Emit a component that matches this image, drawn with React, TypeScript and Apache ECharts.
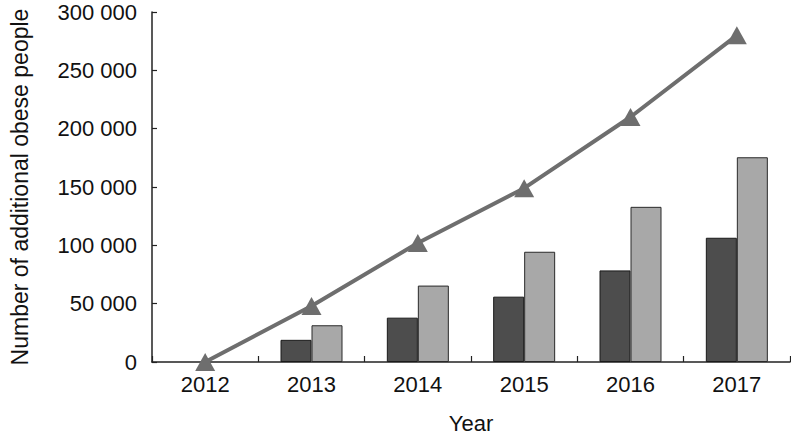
import React, { useEffect, useRef } from "react";
import * as echarts from "echarts";

const years = ["2012", "2013", "2014", "2015", "2016", "2017"];
const darkBars = [null, 19000, 38000, 56000, 78500, 106500];
const lightBars = [null, 31500, 65500, 94500, 133000, 175500];
const lineValues = [0, 48000, 102000, 149000, 210000, 280000];

const fmt = (v: number) => {
  if (v === 0) return "0";
  const s = String(Math.round(v));
  return s.slice(0, s.length - 3) + " " + s.slice(s.length - 3);
};

export default function App() {
  const ref = useRef<HTMLDivElement>(null);
  useEffect(() => {
    if (!ref.current) return;
    const chart = echarts.init(ref.current, undefined, { renderer: "svg" });
    const font = "Liberation Sans, Arial, Helvetica, sans-serif";
    chart.setOption({
      animation: false,
      backgroundColor: "#ffffff",
      textStyle: { fontFamily: font },
      grid: { left: 142, right: 1, top: 12, bottom: 75, containLabel: false },
      xAxis: {
        type: "category",
        data: years,
        boundaryGap: true,
        name: "Year",
        nameLocation: "middle",
        nameGap: 50,
        nameTextStyle: { fontSize: 22, color: "#111", fontFamily: font },
        axisLine: { lineStyle: { color: "#222", width: 1.5 } },
        axisTick: { show: true, inside: true, length: 6, alignWithLabel: false, lineStyle: { color: "#222", width: 1.2 } },
        axisLabel: { fontSize: 22, color: "#111", margin: 11, fontFamily: font },
        splitLine: { show: false },
      },
      yAxis: {
        type: "value",
        min: 0,
        max: 300000,
        interval: 50000,
        name: "Number of additional obese people",
        nameLocation: "middle",
        nameGap: 121,
        nameTextStyle: { fontSize: 23, color: "#111", fontFamily: font },
        axisLine: { show: true, lineStyle: { color: "#222", width: 1.5 } },
        axisTick: { show: true, inside: true, length: 5, lineStyle: { color: "#222", width: 1.2 } },
        axisLabel: { fontSize: 22, color: "#111", margin: 15, formatter: fmt, fontFamily: font },
        splitLine: { show: false },
      },
      series: [
        {
          type: "bar",
          data: darkBars,
          barWidth: 31,
          barGap: "0%",
          itemStyle: { color: "#4d4d4d", borderColor: "#1a1a1a", borderWidth: 1 },
          z: 2,
        },
        {
          type: "bar",
          data: lightBars,
          barWidth: 31,
          barGap: "0%",
          itemStyle: { color: "#a8a8a8", borderColor: "#2a2a2a", borderWidth: 1 },
          z: 2,
        },
        {
          type: "line",
          data: lineValues,
          symbol: "triangle",
          symbolSize: [20, 18],
          lineStyle: { color: "#6e6e6e", width: 4 },
          itemStyle: { color: "#6e6e6e" },
          z: 5,
        },
      ],
    });
    return () => chart.dispose();
  }, []);
  return <div ref={ref} style={{ width: 791, height: 439, position: "absolute", left: 0, top: 0 }} />;
}
